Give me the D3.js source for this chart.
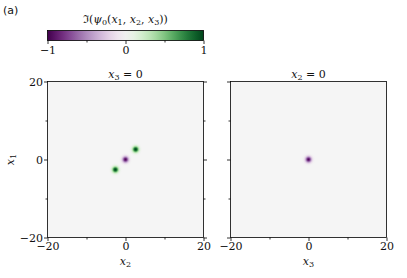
<!DOCTYPE html>
<html><head><meta charset="utf-8">
<script src="https://cdn.jsdelivr.net/npm/d3@7"></script>
<style>
body{margin:0;background:#fff;}
svg text{font-family:"DejaVu Serif",serif !important;fill:#111;}
svg text.sans{font-family:"DejaVu Sans",sans-serif !important;}
</style></head>
<body><svg id="c" width="407" height="278"></svg>
<script>
const domainMin = -20, domainMax = 20;
const axisTicks = [-20, -10, 0, 10, 20];
const axisTickLabels = ["\u221220", "", "0", "", "20"];
const cbarTicks = [-1, -0.5, 0, 0.5, 1];
const cbarTickLabels = ["\u22121", "", "0", "", "1"];
// left panel (x3 = 0): horizontal x2, vertical x1
const leftX = [2.6, 0, -2.6];
const leftY = [2.6, 0, -2.6];
const leftV = [1.0, -0.95, 1.0];
// right panel (x2 = 0): horizontal x3, vertical x1
const rightX = [0];
const rightY = [0];
const rightV = [-0.95];

const svg = d3.select("#c");
const color = d3.scaleSequential(d3.interpolatePRGn).domain([-1, 1]);
const defs = svg.append("defs");

svg.append("text").attr("class", "sans").attr("x", 3).attr("y", 14).attr("font-size", 11).text("(a)");

// colorbar
const cb = {x0: 47.5, x1: 203.5, y: 30.5, h: 10};
const cbScale = d3.scaleLinear().domain([-1, 1]).range([cb.x0, cb.x1]);
const lg = defs.append("linearGradient").attr("id", "cbg");
d3.range(0, 1.0001, 0.05).forEach(t => lg.append("stop").attr("offset", t).attr("stop-color", color(-1 + 2 * t)));
svg.append("rect").attr("x", cb.x0).attr("y", cb.y).attr("width", cb.x1 - cb.x0).attr("height", cb.h)
  .attr("fill", "url(#cbg)").attr("stroke", "#000").attr("stroke-width", 0.8);
const cbAxis = svg.append("g").attr("transform", `translate(0,${cb.y + cb.h})`)
  .call(d3.axisBottom(cbScale).tickValues(cbarTicks).tickFormat((d, i) => cbarTickLabels[i]).tickSizeOuter(0));
cbAxis.select(".domain").remove();
cbAxis.selectAll(".tick line").attr("y2", (d, i) => cbarTickLabels[i] ? 3.5 : 2).attr("stroke-width", 0.8);
cbAxis.selectAll(".tick text").attr("font-size", 11).attr("y", 6).attr("dy", "0.71em");

const title = svg.append("text").attr("x", 125.5).attr("y", 23).attr("text-anchor", "middle").attr("font-size", 11);
title.append("tspan").text("\u2111(");
title.append("tspan").attr("font-style", "italic").text("\u03c8");
title.append("tspan").attr("font-size", 8).attr("dy", 2).text("0");
title.append("tspan").attr("dy", -2).text("(");
[1, 2, 3].forEach((k, i) => {
  title.append("tspan").attr("font-style", "italic").text("x");
  title.append("tspan").attr("font-size", 8).attr("dy", 2).text(k);
  title.append("tspan").attr("dy", -2).text(i < 2 ? ", " : "))");
});

function mathLabel(g, x, y, sub, rest, rotate) {
  const t = g.append("text").attr("text-anchor", "middle").attr("font-size", 11)
    .attr("transform", rotate ? `translate(${x},${y}) rotate(-90)` : `translate(${x},${y})`);
  t.append("tspan").attr("font-style", "italic").text("x");
  t.append("tspan").attr("font-size", 8).attr("dy", 2).text(sub);
  if (rest) t.append("tspan").attr("dy", -2).text(rest);
  return t;
}

function panel(px, py, size, xs, ys, vs, id, titleSub, xSub, showY, rightTicks) {
  const g = svg.append("g");
  const x = d3.scaleLinear().domain([domainMin, domainMax]).range([px, px + size]);
  const y = d3.scaleLinear().domain([domainMin, domainMax]).range([py + size, py]);
  g.append("rect").attr("x", px).attr("y", py).attr("width", size).attr("height", size).attr("fill", "#f5f5f5");
  const rUnits = 1.8;
  xs.forEach((cx, i) => {
    const gid = `rg${id}${i}`;
    const rg = defs.append("radialGradient").attr("id", gid);
    d3.range(0, 1.0001, 0.1).forEach(t => {
      const r = t * rUnits;
      const v = vs[i] * Math.exp(-(r * r) / (2 * 0.55 * 0.55));
      rg.append("stop").attr("offset", t).attr("stop-color", color(v))
        .attr("stop-opacity", Math.min(1, Math.abs(v) * 12));
    });
    g.append("circle").attr("cx", x(cx)).attr("cy", y(ys[i]))
      .attr("r", x(rUnits) - x(0)).attr("fill", `url(#${gid})`);
  });
  g.append("rect").attr("x", px).attr("y", py).attr("width", size).attr("height", size)
    .attr("fill", "none").attr("stroke", "#000").attr("stroke-width", 0.8);
  const fmt = (d, i) => axisTickLabels[i];
  const styleAxis = (a) => {
    a.select(".domain").remove();
    a.selectAll(".tick line").attr("stroke-width", 0.8);
    a.selectAll(".tick text").attr("font-size", 11);
  };
  const bx = g.append("g").attr("transform", `translate(0,${py + size})`)
    .call(d3.axisBottom(x).tickValues(axisTicks).tickFormat(fmt).tickSizeOuter(0));
  styleAxis(bx);
  bx.selectAll(".tick line").attr("y2", (d, i) => axisTickLabels[i] ? 3.5 : 2);
  bx.selectAll(".tick text").attr("y", 5);
  const ly = g.append("g").attr("transform", `translate(${px},0)`)
    .call(d3.axisLeft(y).tickValues(axisTicks).tickFormat(showY ? fmt : () => "").tickSizeOuter(0));
  styleAxis(ly);
  ly.selectAll(".tick line").attr("x2", (d, i) => axisTickLabels[i] ? -3.5 : -2);
  ly.selectAll(".tick text").attr("x", -4.5);
  if (rightTicks) {
    const ry = g.append("g").attr("transform", `translate(${px + size},0)`)
      .call(d3.axisRight(y).tickValues(axisTicks).tickFormat(() => "").tickSizeOuter(0));
    styleAxis(ry);
    ry.selectAll(".tick line").attr("x2", (d, i) => axisTickLabels[i] ? 3.5 : 2);
  }
  mathLabel(g, px + size / 2, py - 4, titleSub, " = 0", false);
  mathLabel(g, px + size / 2, py + size + 27, xSub, "", false);
  if (showY) mathLabel(g, 14, py + size / 2, "1", "", true);
}

panel(47.5, 81.5, 156, leftX, leftY, leftV, "L", "3", "2", true, true);
panel(230.5, 81.5, 156, rightX, rightY, rightV, "R", "2", "3", false, false);
</script></body></html>
